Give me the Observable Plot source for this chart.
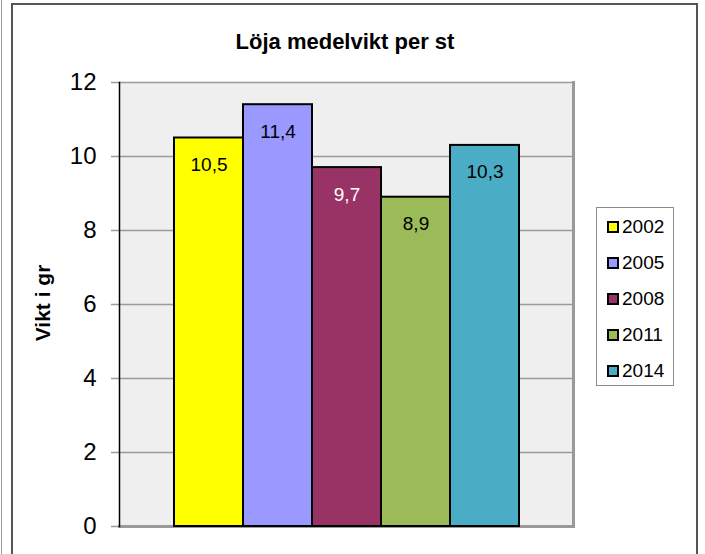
<!DOCTYPE html>
<html>
<head>
<meta charset="utf-8">
<script src="https://cdn.jsdelivr.net/npm/d3@7"></script>
<script src="https://cdn.jsdelivr.net/npm/@observablehq/plot@0.6"></script>
<style>
  html, body { margin: 0; padding: 0; background: #fff; }
  body { font-family: "Liberation Sans", Arial, sans-serif; }
  #wrap { position: relative; width: 705px; height: 554px; overflow: hidden; }
  #wrap svg { position: absolute; left: 0; top: 0; }
  .edge { position: absolute; left: 1px; top: 0; width: 1px; height: 554px; background: #9a9a9a; }
  .frame { position: absolute; left: 11px; top: 3px; width: 687px; height: 600px; border: 2px solid #555; box-sizing: border-box; }
  .title { position: absolute; left: 0; width: 690px; top: 29px; text-align: center; font-weight: bold; font-size: 22px; color: #000; }
  .ylab { position: absolute; left: 43px; top: 303px; transform: translate(-50%, -50%) rotate(-90deg); font-weight: bold; font-size: 21px; white-space: nowrap; }
  .legend { position: absolute; left: 596px; top: 207px; width: 78px; height: 179px; border: 1px solid #8c8c8c; box-sizing: border-box; background: #fff; }
  .item { position: absolute; left: 10px; font-size: 19px; line-height: 20px; display: flex; align-items: center; }
  .sw { width: 8px; height: 8px; border: 2px solid #000; margin-right: 3px; }
</style>
</head>
<body>
<div id="wrap">
  <div class="edge"></div>
  <div class="frame"></div>
</div>
<script>
const years = ["2002", "2005", "2008", "2011", "2014"];
const values = [10.5, 11.4, 9.7, 8.9, 10.3];
const colors = ["#ffff00", "#9999ff", "#993366", "#9bbb59", "#4bacc6"];
const labelColors = ["#000", "#000", "#fff", "#000", "#000"];
const yTicks = [0, 2, 4, 6, 8, 10, 12];
const titleText = "Löja medelvikt per st";
const yLabelText = "Vikt i gr";

const data = years.map((y, i) => ({year: y, value: values[i], lc: labelColors[i]}));

const chart = Plot.plot({
  width: 705,
  height: 554,
  marginLeft: 119,
  marginRight: 132,
  marginTop: 82,
  marginBottom: 28,
  style: {fontFamily: "Liberation Sans, Arial, sans-serif", background: "transparent", overflow: "visible"},
  x: {domain: years, paddingInner: 0, paddingOuter: 0.75, axis: null},
  y: {domain: [0, 12], ticks: yTicks, label: null},
  color: {domain: years, range: colors},
  marks: [
    Plot.frame({fill: "#efefef", stroke: "none"}),
    Plot.ruleY(yTicks.filter(d => d > 0), {stroke: "#9a9a9a", strokeWidth: 1.5}),
    Plot.frame({anchor: "right", stroke: "#9a9a9a", strokeWidth: 3}),
    Plot.frame({anchor: "bottom", stroke: "#9a9a9a", strokeWidth: 3}),
    Plot.axisY({ticks: yTicks, tickSize: 8, tickPadding: 15, fontSize: 24, stroke: "#9a9a9a", strokeWidth: 1.5, fill: "#000", label: null, tickFormat: d => String(d)}),
    Plot.frame({anchor: "left", stroke: "#000", strokeWidth: 1.5}),
    Plot.barY(data, {x: "year", y: "value", fill: "year", stroke: "#000", strokeWidth: 2}),
    Plot.text(data, {x: "year", y: "value", text: d => d.value.toFixed(1).replace(".", ","), fill: "lc", fontSize: 19, dy: 27})
  ]
});

const wrap = document.getElementById("wrap");
wrap.insertBefore(chart, wrap.firstChild);

const t = document.createElement("div");
t.className = "title"; t.textContent = titleText; wrap.appendChild(t);
const yl = document.createElement("div");
yl.className = "ylab"; yl.textContent = yLabelText; wrap.appendChild(yl);

const lg = document.createElement("div");
lg.className = "legend";
years.forEach((y, i) => {
  const it = document.createElement("div");
  it.className = "item";
  it.style.top = (9 + i * 36) + "px";
  const sw = document.createElement("span");
  sw.className = "sw"; sw.style.background = colors[i];
  const tx = document.createElement("span");
  tx.textContent = y;
  it.appendChild(sw); it.appendChild(tx);
  lg.appendChild(it);
});
wrap.appendChild(lg);
</script>
</body>
</html>
